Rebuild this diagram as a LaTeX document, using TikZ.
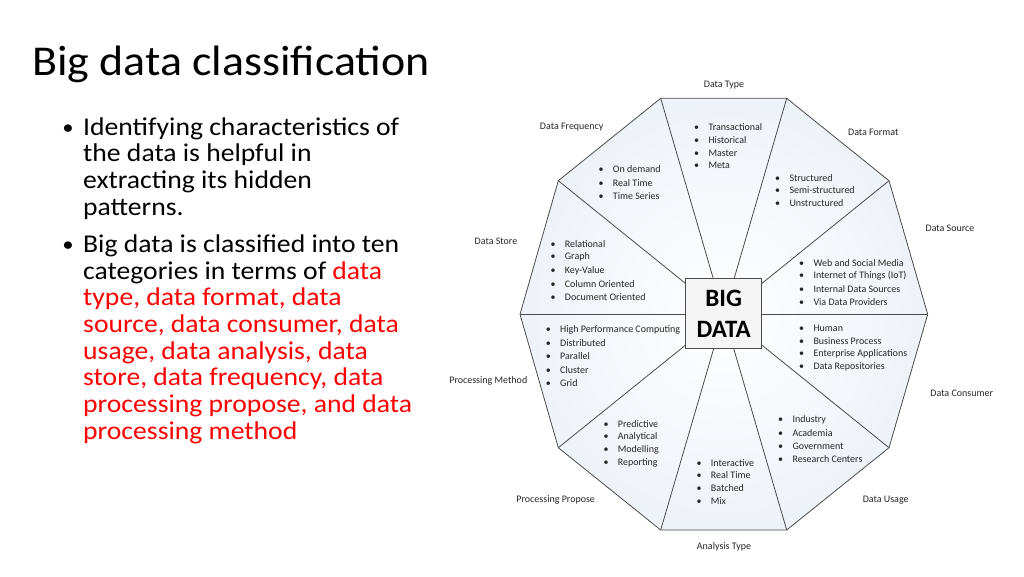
\documentclass[tikz,border=0pt]{standalone}
\usepackage{fontspec}
\setmainfont{Carlito}[FakeStretch=1.08]
\newfontfamily\diagfont{Carlito}
\usetikzlibrary{positioning}

\newcommand{\bul}{\makebox[14.3pt][l]{\textbullet}}

\begin{document}
\begin{tikzpicture}[x=1pt,y=-1pt,
  every node/.style={inner sep=0pt},
  rim/.style={draw=black!70,line width=0.8pt},
  spoke/.style={draw=black!70,line width=0.8pt},
  cat/.style={font=\diagfont\fontsize{10}{12}\selectfont,text=black!85},
  item/.style={font=\diagfont\fontsize{10}{12}\selectfont,text=black!85,anchor=west},
  core/.style={draw=black!70,line width=0.8pt,fill=black!4,minimum width=76pt,minimum height=70pt,align=center,font=\diagfont\bfseries\fontsize{25}{31}\selectfont},
  para/.style={anchor=base west,align=left,font=\fontsize{25.6}{26.7}\selectfont},
  dot/.style={anchor=base,font=\fontsize{21}{26.7}\selectfont}]
\useasboundingbox (0,0) rectangle (1024,576);

% title and points (base of a point is its last line)
\path (32,75) node (title) [anchor=base west,font=\fontsize{42.5}{48}\selectfont] {Big data classification};
\path (68,134) node (dota) [dot] {\textbullet};
\path (83,215.1) node (pointa) [para] {Identifying characteristics of\\the data is helpful in\\extracting its hidden\\patterns.};
\path (68,251.3) node (dotb) [dot] {\textbullet};
\path (83,439.2) node (pointb) [para] {Big data is classified into ten\\categories in terms of \textcolor{red}{data}\\\textcolor{red}{type, data format, data}\\\textcolor{red}{source, data consumer, data}\\\textcolor{red}{usage, data analysis, data}\\\textcolor{red}{store, data frequency, data}\\\textcolor{red}{processing propose, and data}\\\textcolor{red}{processing method}};

% decagon
\coordinate (ctr) at (723.7,314.3);
\coordinate (v1) at (660.7,98.3);
\coordinate (v2) at (786.7,98.3);
\coordinate (v3) at (889,180.7);
\coordinate (v4) at (927.7,314.3);
\coordinate (v5) at (889,447.7);
\coordinate (v6) at (786.7,530);
\coordinate (v7) at (660.7,530);
\coordinate (v8) at (558.3,447.7);
\coordinate (v9) at (520,314.3);
\coordinate (v10) at (558.3,180.7);
\shade [inner color=white,outer color={rgb,255:red,238;green,242;blue,249}]
  (v1) -- (v2) -- (v3) -- (v4) -- (v5) -- (v6) -- (v7) -- (v8) -- (v9) -- (v10) -- cycle;
\foreach \i in {1,...,10}
  \draw [spoke] (ctr) -- (v\i);
\draw [rim] (v1) -- (v2) -- (v3) -- (v4) -- (v5) -- (v6) -- (v7) -- (v8) -- (v9) -- (v10) -- cycle;
\path (ctr) ++(0,-1) node (bigdata) [core] {BIG\\DATA};

% category names
\path (724,85) node (ltype) [cat] {Data Type};
\path (873.3,132.3) node (lformat) [cat] {Data Format};
\path (950,228.3) node (lsource) [cat] {Data Source};
\path (961.7,393.3) node (lconsumer) [cat] {Data Consumer};
\path (885.7,500) node (lusage) [cat] {Data Usage};
\path (724,546.7) node (lanalysis) [cat] {Analysis Type};
\path (555.7,500) node (lpropose) [cat] {Processing Propose};
\path (488.3,380.7) node (lmethod) [cat] {Processing Method};
\path (496,241.7) node (lstore) [cat] {Data Store};
\path (571.7,127.3) node (lfreq) [cat] {Data Frequency};

% members of each category
\foreach \t [count=\i] in {Transactional,Historical,Master,Meta}
  \path (694,{127.3+12.8*(\i-1)}) node (type\i) [item] {\bul\t};
\foreach \t [count=\i] in {Structured,Semi-structured,Unstructured}
  \path (775,{177.7+12.8*(\i-1)}) node (format\i) [item] {\bul\t};
\foreach \t [count=\i] in {Web and Social Media,Internet of Things (IoT),Internal Data Sources,Via Data Providers}
  \path (799,{262.7+13*(\i-1)}) node (source\i) [item] {\bul\t};
\foreach \t [count=\i] in {Human,Business Process,Enterprise Applications,Data Repositories}
  \path (799,{328.3+13*(\i-1)}) node (consumer\i) [item] {\bul\t};
\foreach \t [count=\i] in {Industry,Academia,Government,Research Centers}
  \path (778,{420+13.1*(\i-1)}) node (usage\i) [item] {\bul\t};
\foreach \t [count=\i] in {Interactive,Real Time,Batched,Mix}
  \path (696.4,{462.7+12.8*(\i-1)}) node (analysis\i) [item] {\bul\t};
\foreach \t [count=\i] in {Predictive,Analytical,Modelling,Reporting}
  \path (603.4,{424.3+13*(\i-1)}) node (propose\i) [item] {\bul\t};
\foreach \t [count=\i] in {High Performance Computing,Distributed,Parallel,Cluster,Grid}
  \path (545.7,{330+13.2*(\i-1)}) node (method\i) [item] {\bul\t};
\foreach \t [count=\i] in {Relational,Graph,Key-Value,Column Oriented,Document Oriented}
  \path (550.4,{244+13.2*(\i-1)}) node (store\i) [item] {\bul\t};
\foreach \t [count=\i] in {On demand,Real Time,Time Series}
  \path (598.4,{169.3+13.5*(\i-1)}) node (freq\i) [item] {\bul\t};
\end{tikzpicture}
\end{document}
